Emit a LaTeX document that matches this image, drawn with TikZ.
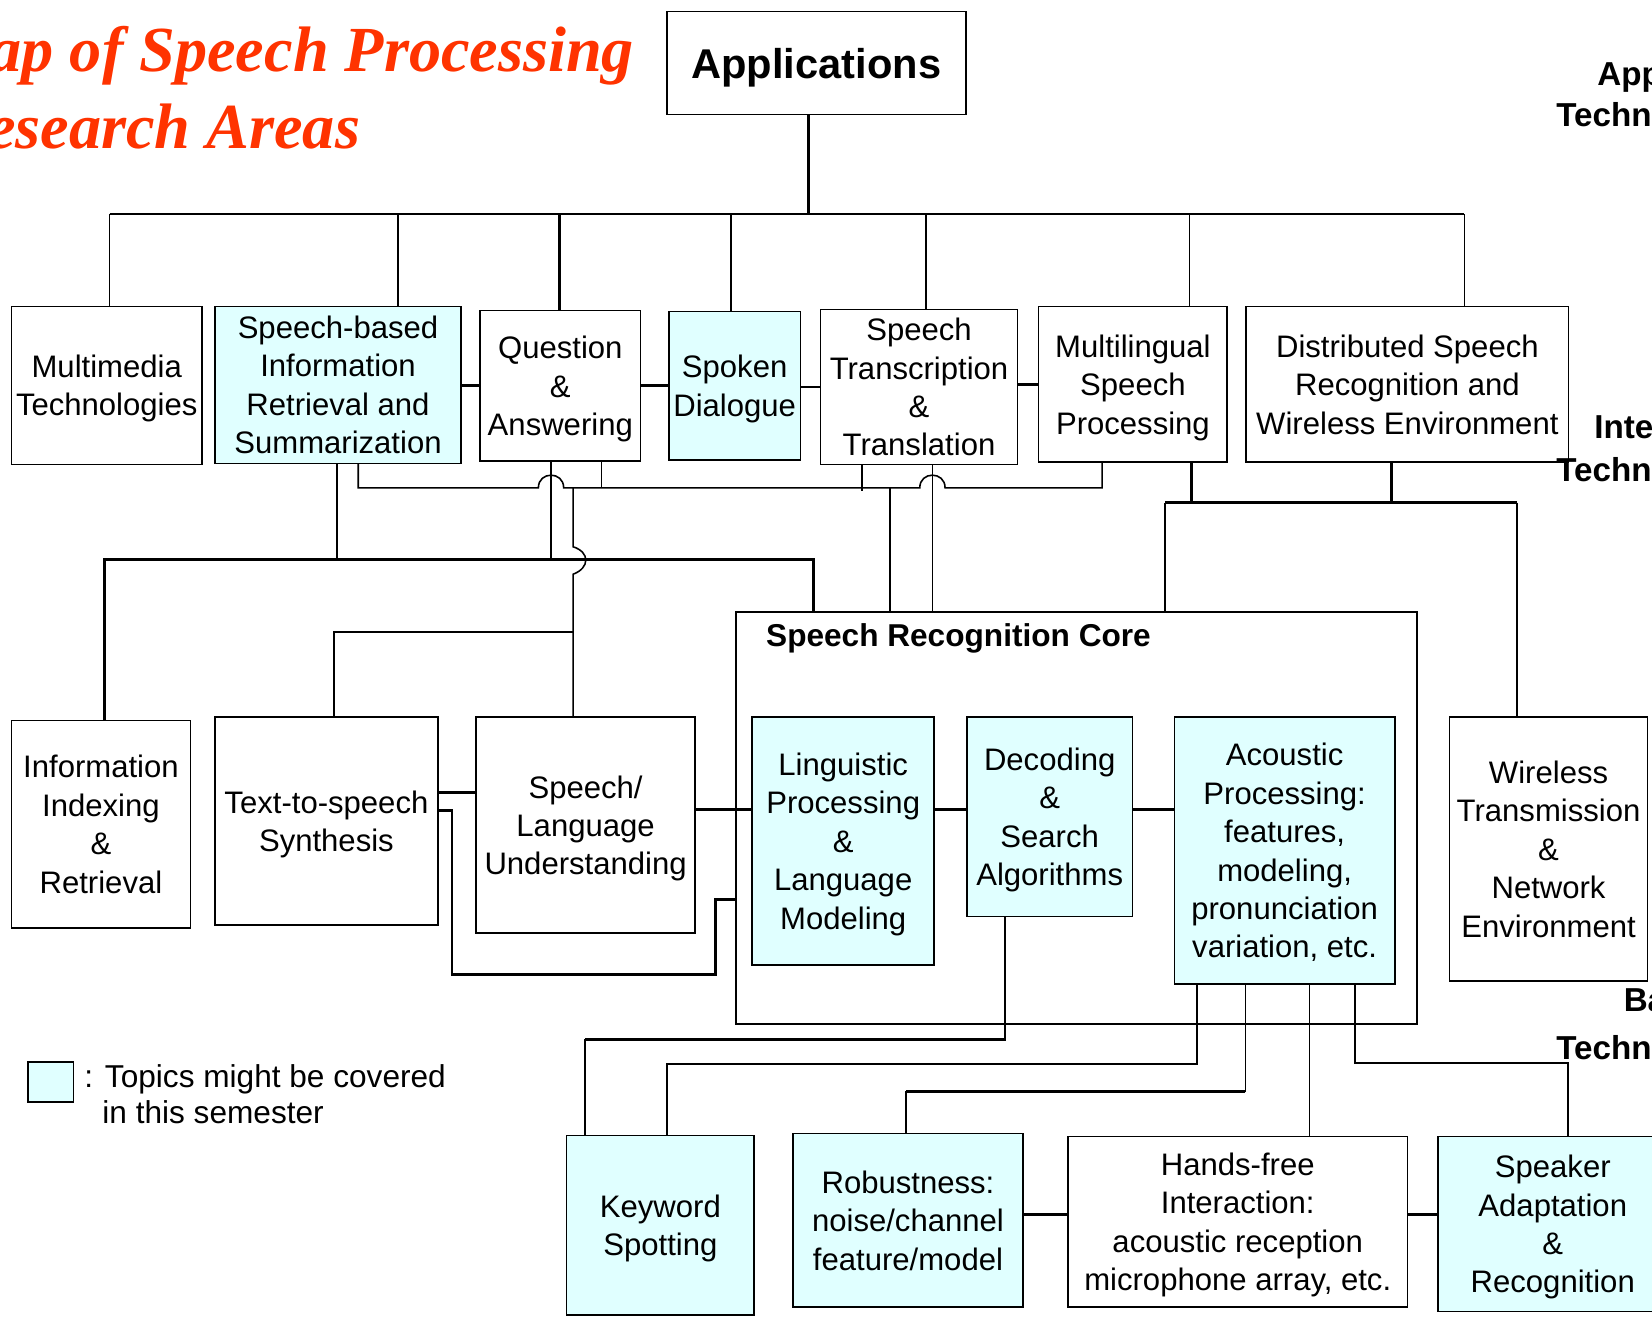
\documentclass[tikz,border=0pt]{standalone}
\usepackage{fontspec}
\setmainfont{Liberation Sans}
\newfontfamily\titlefont{Liberation Serif}
\definecolor{topic}{HTML}{E0FFFF}
\definecolor{maptitle}{HTML}{FF3300}

\begin{document}
\begin{tikzpicture}[x=1pt,y=-1pt,
  box/.style={draw, line width=1.6pt, inner sep=0pt, anchor=north west, align=center,
    text depth=0pt, font=\fontsize{29.5}{36.5}\selectfont},
  hot/.style={box, fill=topic},
  ln/.style={line width=1.5pt},
  thk/.style={line width=2.8pt},
  side/.style={anchor=base west, inner sep=0pt, font=\fontsize{31.5}{36}\selectfont\bfseries},
  maptxt/.style={anchor=base east, inner sep=0pt, text=maptitle,
    font=\titlefont\fontsize{61}{70}\selectfont\bfseries\itshape}]

\useasboundingbox (0,0) rectangle (1568,1252);
\clip (0,0) rectangle (1568,1252);
\fill[white] (0,0) rectangle (1568,1252);

\node[maptxt] (ttl1) at (602,68) {Map of Speech Processing};
\node[maptxt] (ttl2) at (342,141) {Research Areas};

\node[box, minimum width=284, minimum height=98, font=\fontsize{39.5}{44}\selectfont\bfseries] (apps) at (632,10) {Applications};

\node[side] (ap1) at (1516,81) {Applications};
\node[side] (ap2) at (1477,120.5) {Technologies};
\node[side] (in1) at (1513,416) {Integrated};
\node[side] (in2) at (1477,457) {Technologies};
\node[side] (ba1) at (1541,960) {Basic};
\node[side] (ba2) at (1477,1005.5) {Technologies};

% application row
\node[box, minimum width=181, minimum height=150] (mm) at (10,290) {Multimedia\\Technologies};
\node[hot, minimum width=234, minimum height=149] (sbir) at (203,290) {Speech-based\\Information\\Retrieval and\\Summarization};
\node[box, minimum width=152, minimum height=143] (qa) at (455,294) {Question\\\&\\Answering};
\node[hot, minimum width=125, minimum height=141] (sd) at (634,295) {Spoken\\Dialogue};
\node[box, minimum width=187, minimum height=147] (stt) at (778,293) {Speech\\Transcription\\\&\\Translation};
\node[box, minimum width=179, minimum height=148] (msp) at (985,290) {Multilingual\\Speech\\Processing};
\node[box, minimum width=306, minimum height=148] (dsr) at (1182,290) {Distributed Speech\\Recognition and\\Wireless Environment};

% integrated row
\node[box, minimum width=646, minimum height=391] (src) at (698,580) {};
\node[anchor=base west, inner sep=0pt, font=\fontsize{30}{36}\selectfont\bfseries] (srct) at (727,614) {Speech Recognition Core};
\node[box, minimum width=170, minimum height=197] (iir) at (10,683) {Information\\Indexing\\\&\\Retrieval};
\node[box, minimum width=212, minimum height=197, text depth=-5pt] (tts) at (203,680) {Text-to-speech\\Synthesis};
\node[box, minimum width=208, minimum height=205] (slu) at (451,680) {Speech/\\Language\\Understanding};
\node[hot, minimum width=173, minimum height=235] (lpm) at (713,680) {Linguistic\\Processing\\\&\\Language\\Modeling};
\node[hot, minimum width=157, minimum height=189] (dsa) at (917,680) {Decoding\\\&\\Search\\Algorithms};
\node[hot, minimum width=209, minimum height=253, text depth=-4pt] (apr) at (1114,680) {Acoustic\\Processing:\\features,\\modeling,\\pronunciation\\variation, etc.};
\node[box, minimum width=188, minimum height=250] (wtn) at (1375,680) {Wireless\\Transmission\\\&\\Network\\Environment};

% basic row
\node[hot, minimum width=178, minimum height=170] (kws) at (537,1077) {Keyword\\Spotting};
\node[hot, minimum width=218, minimum height=165] (rob) at (752,1075) {Robustness:\\noise/channel\\feature/model};
\node[box, minimum width=322, minimum height=162] (hfi) at (1013,1078) {Hands-free\\Interaction:\\acoustic reception\\microphone array, etc.};
\node[hot, minimum width=218, minimum height=166] (sar) at (1364,1078) {Speaker\\Adaptation\\\&\\Recognition};

\node[hot, minimum width=43, minimum height=38] (key) at (26,1007) {};
\node[anchor=base west, inner sep=0pt, font=\fontsize{30}{36}\selectfont] (key1) at (80,1032) {: Topics might be covered};
\node[anchor=base west, inner sep=0pt, font=\fontsize{30}{36}\selectfont] (key2) at (97,1066) {in this semester};

% tree from applications
\coordinate (top) at (767,203);
\draw[thk] (top |- apps.south) -- (top);
\draw[ln] (104,203) -- (1390,203);
\foreach \x/\n in {104/mm,378/sbir,694/sd,879/stt,1129/msp,1390/dsr}
  \draw[ln] (\x,203) -- (\x,203 |- \n.north);
\draw[line width=2.2pt] (531,203) -- (531,203 |- qa.north);
\foreach \a/\b in {sbir/qa,qa/sd,sd/stt,stt/msp}
  \draw[thk] (\b.west) -- (\b.west -| \a.east);

% links down to integrated row
\draw[ln] (340,463 |- sbir.south) -- (340,463) -- (511,463) .. controls (511,447) and (535,447) .. (535,463)
  -- (873,463) .. controls (873,447) and (897,447) .. (897,463) -- (1046,463) -- (1046,463 |- msp.south);
\draw[ln] (571,463 |- qa.south) -- (571,463);
\draw[ln] (818,466 |- stt.south) -- (818,466);
\draw[ln] (320,531 |- sbir.south) -- (320,531);
\draw[ln] (523,531 |- qa.south) -- (523,531);
\draw[thk] (99,531 |- iir.north) -- (99,531) -- (772,531) -- (772,531 |- src.north);
\draw[ln] (544,463) -- (544,519) .. controls (560,524) and (560,539) .. (544,545) -- (544,545 |- slu.north);
\draw[ln] (544,600) -- (317,600) -- (317,600 |- tts.north);
\draw[line width=2pt] (845,463) -- (845,463 |- src.north);
\draw[ln] (885,0 |- stt.south) -- (885,0 |- src.north);
\draw[thk] (1131,477 |- msp.south) -- (1131,477);
\draw[thk] (1321,477 |- dsr.south) -- (1321,477);
\draw[thk] (1106,477) -- (1440,477);
\draw[ln] (1106,477) -- (1106,477 |- src.north);
\draw[ln] (1440,477) -- (1440,477 |- wtn.north);

% integrated row links
\draw[thk] (tts.east |- 0,752) -- (slu.west |- 0,752);
\draw[thk] (tts.east |- 0,769) -- (429,769) -- (429,925) -- (679,925) -- (679,854) -- (src.west |- 0,854);
\draw[thk] (slu.east |- 0,768) -- (lpm.west |- 0,768);
\draw[thk] (lpm.east |- 0,768) -- (dsa.west |- 0,768);
\draw[thk] (dsa.east |- 0,768) -- (apr.west |- 0,768);

% links down to basic row
\draw[ln] (954,987 |- dsa.south) -- (954,987) -- (555,987) -- (555,987 |- kws.north);
\draw[thk] (954,987) -- (555,987);
\draw[ln] (1136,1010 |- apr.south) -- (1136,1010) -- (633,1010) -- (633,1010 |- kws.north);
\draw[ln] (1182,1036 |- apr.south) -- (1182,1036) -- (860,1036) -- (860,1036 |- rob.north);
\draw[thk] (1182,1036) -- (860,1036);
\draw[ln] (1243,0 |- apr.south) -- (1243,0 |- hfi.north);
\draw[ln] (1286,1009 |- apr.south) -- (1286,1009) -- (1488,1009) -- (1488,1009 |- sar.north);
\draw[thk] (rob.east |- 0,1153) -- (hfi.west |- 0,1153);
\draw[thk] (hfi.east |- 0,1153) -- (sar.west |- 0,1153);

\end{tikzpicture}
\end{document}
